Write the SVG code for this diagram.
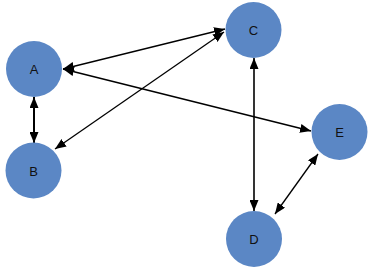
<svg xmlns="http://www.w3.org/2000/svg" width="371" height="269" viewBox="0 0 371 269">
<style>
.node{fill:#5b87c5;}
.lbl{font-family:"Liberation Sans",Arial,sans-serif;font-size:13px;fill:#111;text-anchor:middle;dominant-baseline:central;}
.edge{stroke:#000;stroke-width:1.3;fill:none;marker-start:url(#ah);marker-end:url(#ah);}
</style>
<defs>
<marker id="ah" viewBox="0 0 11 9" refX="11" refY="4.5" markerWidth="11" markerHeight="9" markerUnits="userSpaceOnUse" orient="auto-start-reverse">
<path d="M0,0 L11,4.5 L0,9 z" fill="#000"/>
</marker>
</defs>
<rect width="371" height="269" fill="#fff"/>
<g id="connectors">
<line class="edge" x1="34" y1="97" x2="34" y2="143" style="stroke-width:2"/>
<line class="edge" x1="63" y1="69" x2="225" y2="29"/>
<line class="edge" x1="55" y1="149" x2="224" y2="32"/>
<line class="edge" x1="63" y1="69" x2="311" y2="131"/>
<line class="edge" x1="254" y1="58" x2="254" y2="211" style="stroke-width:1.6"/>
<line class="edge" x1="275" y1="214" x2="318" y2="154"/>
</g>
<g id="node-A"><circle class="node" cx="34" cy="69" r="28"/><text class="lbl" x="34" y="69">A</text></g>
<g id="node-B"><circle class="node" cx="33.5" cy="170.5" r="28"/><text class="lbl" x="33.5" y="171">B</text></g>
<g id="node-C"><circle class="node" cx="253.5" cy="30" r="28"/><text class="lbl" x="253.5" y="30">C</text></g>
<g id="node-D"><circle class="node" cx="254" cy="239" r="28"/><text class="lbl" x="254" y="239">D</text></g>
<g id="node-E"><circle class="node" cx="339.5" cy="132" r="28"/><text class="lbl" x="339.5" y="132">E</text></g>
</svg>
